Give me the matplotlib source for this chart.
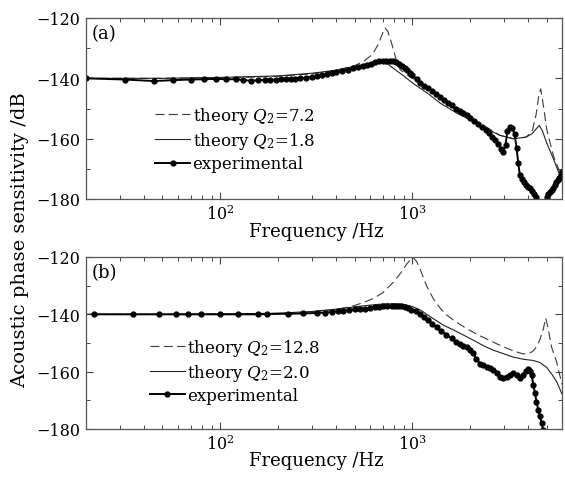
import matplotlib
matplotlib.use("Agg")
import matplotlib.pyplot as plt
from matplotlib.ticker import LogLocator, MultipleLocator, NullFormatter

plt.rcParams['font.family'] = ['DejaVu Serif']
plt.rcParams['mathtext.fontset'] = 'dejavuserif'

# ---------------- panel (a) ----------------
fa_q72 = [20, 50, 100, 150, 200, 300, 400, 500, 560, 620, 660, 700, 720, 745, 780, 820, 860,
          920, 1000, 1200, 1400, 1650, 2000, 2400, 2850, 3340, 3900, 4200, 4400, 4550, 4650,
          4800, 5000, 5400, 6000]
va_q72 = [-140, -140, -139.8, -139.6, -139.3, -138.5, -137.4, -135.8, -134.3, -132, -129, -125,
          -123.3, -124.5, -128.5, -133.5, -137, -138.5, -140, -142.8, -146.8, -150, -153.2, -156,
          -158.9, -160, -159.5, -157.5, -152, -145.5, -143.5, -149, -157, -165.5, -173]

fa_q18 = [20, 50, 100, 200, 300, 400, 500, 600, 680, 740, 800, 900, 1000, 1200, 1400, 1700,
          2000, 2400, 2850, 3340, 3900, 4200, 4400, 4570, 4750, 5000, 5400, 6000]
va_q18 = [-140, -140, -139.7, -139.2, -138.3, -137.3, -136, -135, -134.6, -135.2, -136.8,
          -139.2, -141.5, -145, -148.3, -151.5, -153.8, -156.5, -158.9, -160, -159.5, -158.3,
          -156.8, -155.6, -157.5, -161.5, -166.5, -174]

fa_exp = [20, 32, 45, 57, 70, 82, 95, 107, 120, 132, 145, 157, 170, 182, 195, 207, 220, 232,
          245, 260, 280, 300, 320, 340, 360, 380, 400, 430, 460, 490, 520, 550, 580, 610, 640,
          670, 700, 730, 760, 790, 820, 850, 880, 910, 940, 970, 1000, 1050, 1100, 1150, 1200,
          1260, 1320, 1390, 1460, 1530, 1600, 1680, 1760, 1840, 1920, 2000, 2100, 2200, 2300,
          2400, 2500, 2600, 2700, 2800, 2900, 2970, 3050, 3120, 3200, 3300, 3400, 3480, 3550,
          3620, 3700, 3800, 3900, 4000, 4100, 4200, 4300, 4400, 4480, 4690, 4900, 5000, 5100,
          5200, 5300, 5400, 5500, 5600, 5700, 5800, 5900, 6000]
va_exp = [-140.0, -140.4, -140.9, -140.6, -140.4, -140.3, -140.2, -140.3, -140.3, -140.6,
          -140.8, -140.6, -140.5, -140.5, -140.4, -140.3, -140.3, -140.2, -140.1, -140.0,
          -139.8, -139.5, -139.2, -138.9, -138.6, -138.3, -138.0, -137.5, -137.1, -136.7,
          -136.3, -135.9, -135.5, -135.1, -134.7, -134.4, -134.2, -134.1, -134.1, -134.2,
          -134.5, -135.1, -135.8, -136.6, -137.4, -138.2, -139.0, -140.3, -141.5, -142.5,
          -143.3, -144.3, -145.2, -146.2, -147.2, -148.2, -149.0, -150.0, -150.8, -151.6,
          -152.3, -153.0, -154.0, -155.0, -156.0, -157.0, -158.2, -159.3, -160.5, -161.8,
          -163.5, -164.5, -162.0, -157.5, -156.0, -156.5, -158.5, -163.0, -168.0, -172.0,
          -173.5, -174.5, -175.5, -176.0, -176.5, -177.5, -178.5, -179.5, -181.0, -186.0,
          -181.0, -179.5, -178.5, -177.7, -177.0, -176.2, -175.2, -174.5, -173.8, -173.0,
          -172.0, -171.0]

# ---------------- panel (b) ----------------
fb_q128 = [20, 50, 100, 200, 300, 400, 454, 500, 560, 624, 700, 790, 870, 933, 980, 1010, 1050,
           1100, 1183, 1282, 1400, 1503, 1700, 1914, 2200, 2432, 2750, 3090, 3400, 3770, 4050,
           4250, 4450, 4620, 4800, 4940, 5100, 5300, 5620, 6000]
vb_q128 = [-140, -140, -139.9, -139.7, -139.2, -138.3, -137.6, -136.9, -135.8, -134.5, -132.5,
           -129, -125.5, -122.5, -120.8, -120.3, -121.5, -124.5, -130, -134.5, -138, -140.2,
           -142.8, -145, -147.2, -148.6, -150.3, -151.8, -152.9, -153.8, -153.6, -152.8, -151,
           -148.5, -145, -141.3, -145.5, -151.5, -156.5, -164.5]

fb_q20 = [20, 50, 100, 200, 300, 400, 500, 600, 700, 800, 900, 1000, 1100, 1282, 1450, 1630,
          1850, 2070, 2350, 2630, 3000, 3340, 3800, 4250, 4600, 4990, 5300, 5630, 6000]
vb_q20 = [-140, -140, -139.9, -139.6, -139, -138.2, -137.4, -136.8, -136.4, -136.3, -136.5,
          -137.3, -138.5, -141.5, -143.8, -145.4, -147.3, -149, -151, -152.5, -153.8, -154.9,
          -155.7, -156.1, -156.8, -158.5, -160.8, -163.5, -167.8]

fb_exp = [22, 35, 48, 59, 68, 79, 100, 123, 157, 175, 224, 270, 317, 350, 379, 410, 434, 470,
          501, 535, 566, 600, 638, 670, 702, 740, 778, 810, 841, 875, 912, 950, 988, 1040, 1097,
          1150, 1204, 1270, 1334, 1410, 1503, 1600, 1680, 1766, 1840, 1914, 1990, 2070, 2150,
          2245, 2340, 2432, 2530, 2630, 2740, 2850, 2970, 3090, 3220, 3340, 3480, 3620, 3780,
          3900, 4000, 4080, 4170, 4250, 4340, 4420, 4510, 4600, 4700, 4790]
vb_exp = [-140, -140, -140, -140, -140, -140, -140, -140, -140, -139.9, -139.8, -139.7, -139.5,
          -139.4, -139.2, -138.9, -138.7, -138.5, -138.3, -138.2, -138.1, -137.8, -137.5,
          -137.3, -137.2, -137.1, -137.0, -137.0, -137.0, -137.2, -137.5, -137.9, -138.4,
          -139.0, -139.8, -140.8, -142.0, -143.2, -144.5, -145.8, -147.1, -148.4, -149.6,
          -150.5, -151.0, -151.5, -152.5, -153.5, -155.5, -157.2, -157.8, -158.2, -158.8,
          -159.3, -160.5, -161.8, -162.3, -162.0, -161.0, -160.4, -161.2, -162.2, -161.0,
          -159.6, -159.2, -159.6, -161.0, -164.5, -167.5, -170.5, -173.2, -175.5, -178.0,
          -180.5]

labels_a = [r'theory $Q_2$=7.2', r'theory $Q_2$=1.8', 'experimental']
labels_b = [r'theory $Q_2$=12.8', r'theory $Q_2$=2.0', 'experimental']
panel_tags = ['(a)', '(b)']

W, H = 565, 481
fig = plt.figure(figsize=(W / 100, H / 100), dpi=100)

ax_a = fig.add_axes([86 / W, 1 - 200 / H, 476 / W, 181 / H])
ax_b = fig.add_axes([86 / W, 1 - 430 / H, 476 / W, 172 / H])

dash_kw = dict(color='#3a3a3a', lw=0.8, dashes=(8, 4))
solid_kw = dict(color='#222222', lw=0.8)
exp_kw = dict(color='black', lw=1.4, marker='o', ms=3.5, mfc='black', mec='black')

def style(ax, tag, legend_labels, lx, ly):
    ax.set_xscale('log')
    ax.set_xlim(20, 6000)
    ax.set_ylim(-180, -120)
    ax.yaxis.set_major_locator(MultipleLocator(20))
    ax.yaxis.set_minor_locator(MultipleLocator(10))
    ax.xaxis.set_major_locator(LogLocator(base=10))
    ax.xaxis.set_minor_locator(LogLocator(base=10, subs=range(2, 10)))
    ax.xaxis.set_minor_formatter(NullFormatter())
    ax.tick_params(which='both', direction='in', top=True, right=True, labelsize=11.5,
                   color='#444444', pad=4)
    ax.tick_params(which='major', length=5, width=0.8)
    ax.tick_params(which='minor', length=3, width=0.7)
    for s in ax.spines.values():
        s.set_color('#555555')
        s.set_linewidth(0.9)
    ax.set_xlabel('Frequency /Hz', fontsize=13, labelpad=1)
    ax.xaxis.set_label_coords(0.483, -0.125 if tag == '(a)' else -0.13)
    ax.text(0.012, 0.915, tag, transform=ax.transAxes, fontsize=13, va='center', ha='left')
    leg = ax.legend(labels=legend_labels, handles=ax.lines, loc='center left',
                    bbox_to_anchor=(lx, ly), frameon=False, fontsize=12, borderpad=0,
                    borderaxespad=0, handlelength=2.1, handletextpad=0.15, labelspacing=0.25)
    return leg

ax_a.plot(fa_q72, va_q72, **dash_kw)
ax_a.plot(fa_q18, va_q18, **solid_kw)
ax_a.plot(fa_exp, va_exp, **exp_kw)
style(ax_a, panel_tags[0], labels_a, 0.145, 0.333)

ax_b.plot(fb_q128, vb_q128, **dash_kw)
ax_b.plot(fb_q20, vb_q20, **solid_kw)
ax_b.plot(fb_exp, vb_exp, **exp_kw)
style(ax_b, panel_tags[1], labels_b, 0.134, 0.342)

fig.text(20 / W, 0.5, 'Acoustic phase sensitivity /dB', rotation=90, va='center', ha='center',
         fontsize=14)

fig.savefig('out.png', dpi=100)
